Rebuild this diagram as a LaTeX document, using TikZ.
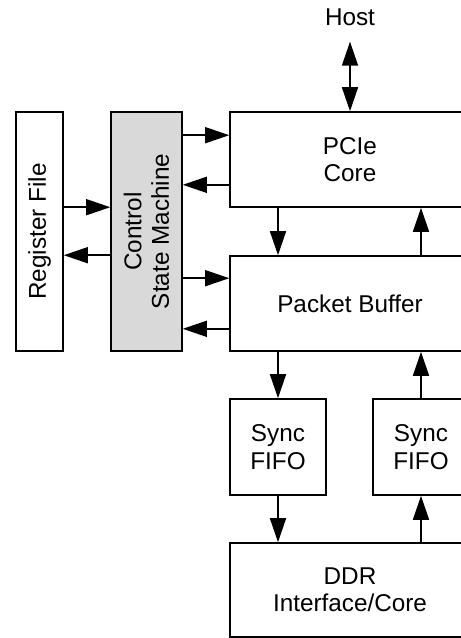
\documentclass[tikz,border=0pt]{standalone}
\usepackage{fontspec}
\setmainfont{Liberation Sans}
\usetikzlibrary{arrows.meta}
\definecolor{ctrlgray}{RGB}{217,217,217}
\begin{document}
\begin{tikzpicture}[x=1pt,y=-1pt,
  box/.style={draw,line width=1.6pt,inner sep=0pt,align=center,font=\fontsize{24.3}{27.5}\selectfont},
  lbl/.style={inner sep=0pt,align=center,font=\fontsize{24.3}{27.5}\selectfont},
  arr/.style={line width=1.6pt,-{Triangle[length=24pt,width=16pt]}},
  darr/.style={line width=1.6pt,{Triangle[length=24pt,width=16pt]}-{Triangle[length=24pt,width=16pt]}}]
\useasboundingbox (0,0) rectangle (461,638);
\clip (0,0) rectangle (461,638);
\node[box,minimum width=47pt,minimum height=239pt] (rf) at (39.5,231.5) {};
\node[lbl,rotate=90] (rflbl) at (rf.center) {Register File};
\node[box,fill=ctrlgray,minimum width=71pt,minimum height=239pt] (ctrl) at (146.5,231.5) {};
\node[lbl,rotate=90] (ctrllbl) at (ctrl.center) {Control\\State Machine};
\node[box,minimum width=240pt,minimum height=95pt] (pcie) at (350,159.5) {PCIe\\Core};
\node[box,minimum width=240pt,minimum height=95pt] (pb) at (350,303.5) {Packet Buffer};
\node[box,minimum width=96pt,minimum height=96pt] (s1) at (278,447) {Sync\\FIFO};
\node[box,minimum width=96pt,minimum height=96pt] (s2) at (421,447) {Sync\\FIFO};
\node[box,minimum width=240pt,minimum height=94pt] (ddr) at (350,590) {DDR\\Interface/Core};
\node[lbl] (host) at (350,17) {Host};
% host link
\draw[darr] ([yshift=-16pt]host.south) -- (pcie.north);
% control <-> PCIe
\draw[arr] ([yshift=-24pt]pcie.north west -| ctrl.east) -- ([yshift=-24pt]pcie.north west);
\draw[arr] ([yshift=23pt]pcie.south west) -- ([yshift=23pt]pcie.south west -| ctrl.east);
% register file <-> control
\draw[arr] ([yshift=-96pt]rf.north east) -- ([yshift=-96pt]rf.north east -| ctrl.west);
\draw[arr] ([yshift=-144pt]ctrl.north west) -- ([yshift=-144pt]ctrl.north west -| rf.east);
% control <-> packet buffer
\draw[arr] ([yshift=-23pt]pb.north west -| ctrl.east) -- ([yshift=-23pt]pb.north west);
\draw[arr] ([yshift=23pt]pb.south west) -- ([yshift=23pt]pb.south west -| ctrl.east);
% PCIe <-> packet buffer
\draw[arr] (pcie.south -| s1.north) -- (pb.north -| s1.north);
\draw[arr] (pb.north -| s2.north) -- (pcie.south -| s2.north);
% packet buffer <-> sync fifos
\draw[arr] (pb.south -| s1.north) -- (s1.north);
\draw[arr] (s2.north) -- (pb.south -| s2.north);
% sync fifos <-> DDR
\draw[arr] (s1.south) -- (ddr.north -| s1.south);
\draw[arr] (ddr.north -| s2.south) -- (s2.south);
\end{tikzpicture}
\end{document}
